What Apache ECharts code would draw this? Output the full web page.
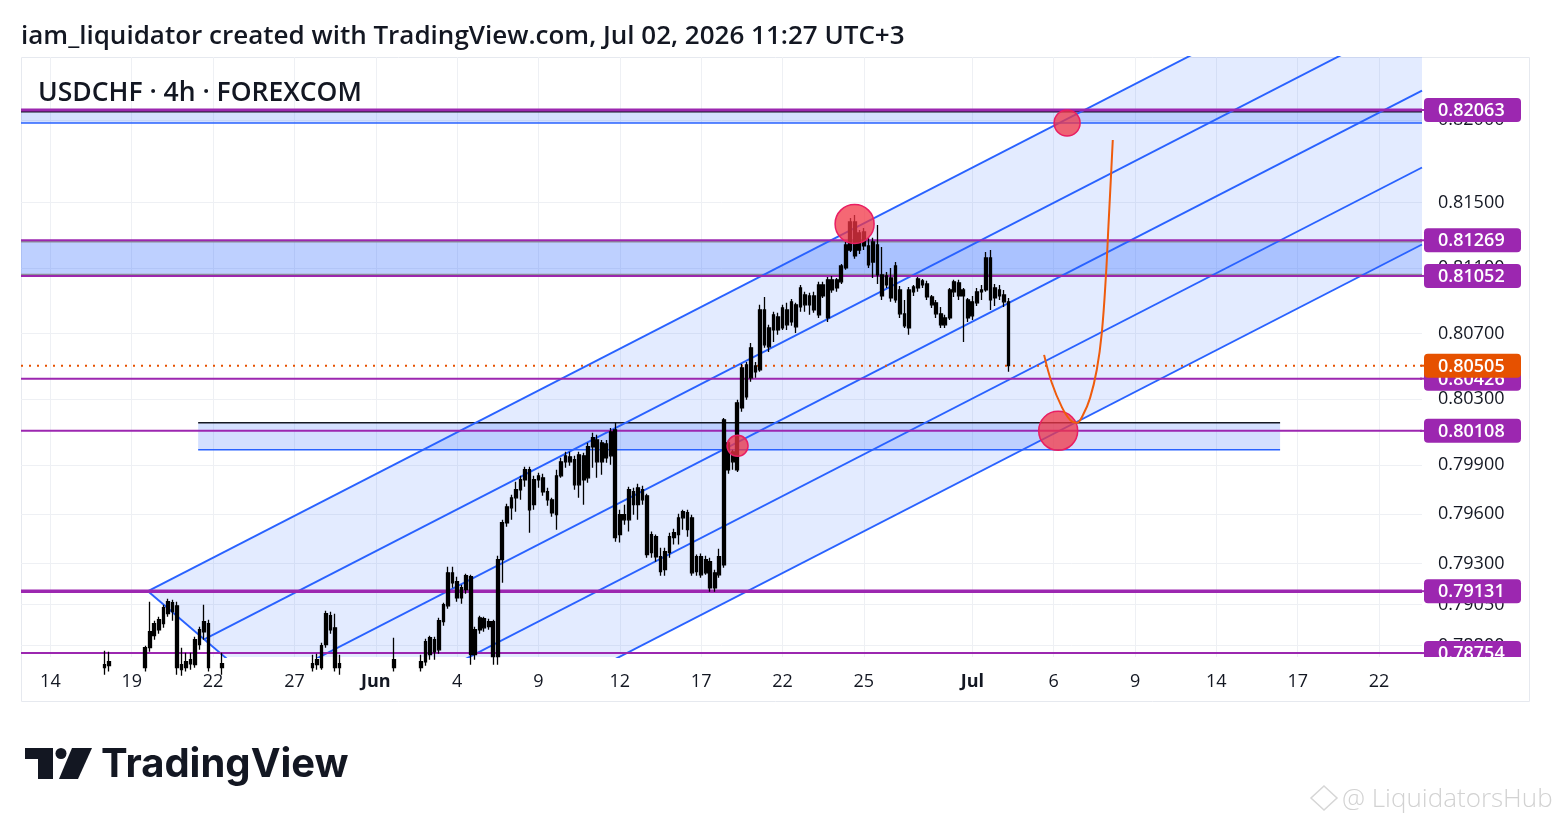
<!DOCTYPE html>
<html><head><meta charset="utf-8">
<script src="https://cdn.jsdelivr.net/npm/echarts@6/dist/echarts.min.js"></script>
<style>html,body{margin:0;padding:0;background:#fff;}#c{width:1552px;height:828px;}</style>
</head><body><div id="c"></div>
<script>
// ---------------- DATA ----------------
// 4h bars: [barIndex, open, close, low, high]; bar 6 = May 14 00:00, 6 bars per trading day
const candles = [
[18,0.78683,0.78665,0.78622,0.78768],[19,0.78701,0.78677,0.78641,0.78762],
[27,0.78665,0.78787,0.78641,0.78799],[28,0.78787,0.78884,0.78762,0.79067],[29,0.78860,0.78933,0.78835,0.78951],
[30,0.78896,0.78957,0.78872,0.78975],[31,0.78933,0.79030,0.78908,0.79049],[32,0.78994,0.79067,0.78975,0.79085],
[33,0.79061,0.79006,0.78951,0.79079],[34,0.79042,0.78665,0.78622,0.79067],[35,0.78653,0.78683,0.78616,0.78787],
[36,0.78665,0.78701,0.78641,0.78756],[37,0.78689,0.78714,0.78653,0.78756],[38,0.78683,0.78835,0.78665,0.78854],
[39,0.78805,0.78896,0.78774,0.78915],[40,0.78884,0.78945,0.78835,0.79049],[41,0.78933,0.78665,0.78641,0.78957],
[44,0.78665,0.78689,0.78622,0.78756],
[64,0.78665,0.78689,0.78641,0.78744],[65,0.78683,0.78714,0.78653,0.78750],[66,0.78665,0.78799,0.78653,0.78817],
[67,0.78805,0.78994,0.78787,0.79012],[68,0.78982,0.78896,0.78872,0.79006],[69,0.78908,0.78665,0.78641,0.78994],
[70,0.78665,0.78689,0.78622,0.78744],
[82,0.78665,0.78714,0.78641,0.78848],
[88,0.78665,0.78701,0.78641,0.78744],[89,0.78701,0.78823,0.78677,0.78841],[90,0.78744,0.78848,0.78714,0.78860],
[91,0.78835,0.78762,0.78714,0.78854],[92,0.78774,0.78951,0.78750,0.78969],[93,0.78945,0.79049,0.78921,0.79061],
[94,0.79042,0.79243,0.79024,0.79280],[95,0.79243,0.79182,0.79152,0.79280],[96,0.79189,0.79091,0.79067,0.79219],
[97,0.79091,0.79152,0.79055,0.79170],[98,0.79140,0.79225,0.79116,0.79237],[99,0.79219,0.78744,0.78683,0.79231],
[100,0.78744,0.78896,0.78714,0.78915],[101,0.78896,0.78969,0.78872,0.78982],[102,0.78963,0.78908,0.78884,0.78975],
[103,0.78915,0.78945,0.78896,0.78963],[104,0.78945,0.78732,0.78683,0.78957],[105,0.78732,0.79323,0.78683,0.79347],
[106,0.79323,0.79548,0.79182,0.79566],[107,0.79548,0.79645,0.79524,0.79664],[108,0.79639,0.79700,0.79566,0.79718],
[109,0.79700,0.79749,0.79615,0.79798],[110,0.79749,0.79810,0.79688,0.79834],[111,0.79810,0.79871,0.79767,0.79889],
[112,0.79871,0.79627,0.79487,0.79889],[113,0.79658,0.79810,0.79627,0.79834],[114,0.79810,0.79834,0.79761,0.79852],
[115,0.79822,0.79737,0.79712,0.79846],[116,0.79737,0.79688,0.79651,0.79761],[117,0.79688,0.79609,0.79584,0.79700],
[118,0.79597,0.79834,0.79506,0.79871],[119,0.79834,0.79919,0.79822,0.79944],[120,0.79919,0.79956,0.79883,0.79980],
[121,0.79950,0.79919,0.79895,0.79980],[122,0.79932,0.79779,0.79749,0.79956],[123,0.79779,0.79962,0.79700,0.79980],
[124,0.79956,0.79810,0.79658,0.79974],[125,0.79822,0.80011,0.79792,0.80035],[126,0.80011,0.80066,0.79883,0.80096],
[127,0.80053,0.79919,0.79822,0.80084],[128,0.79919,0.80035,0.79840,0.80053],[129,0.80029,0.79944,0.79913,0.80053],
[130,0.79956,0.80102,0.79901,0.80126],[131,0.80114,0.79457,0.79433,0.80157],[132,0.79476,0.79597,0.79427,0.79627],
[133,0.79597,0.79566,0.79536,0.79658],[134,0.79566,0.79749,0.79494,0.79767],[135,0.79737,0.79658,0.79597,0.79761],
[136,0.79658,0.79761,0.79566,0.79785],[137,0.79749,0.79688,0.79658,0.79773],[138,0.79712,0.79354,0.79335,0.79725],
[139,0.79366,0.79476,0.79335,0.79494],[140,0.79463,0.79341,0.79311,0.79476],[141,0.79341,0.79250,0.79225,0.79396],
[142,0.79262,0.79372,0.79225,0.79396],[143,0.79366,0.79463,0.79335,0.79487],[144,0.79457,0.79487,0.79415,0.79512],
[145,0.79476,0.79578,0.79415,0.79603],[146,0.79578,0.79615,0.79506,0.79627],[147,0.79609,0.79506,0.79463,0.79627],
[148,0.79578,0.79243,0.79225,0.79597],[149,0.79250,0.79341,0.79225,0.79354],[150,0.79341,0.79231,0.79213,0.79360],
[151,0.79243,0.79323,0.79231,0.79347],[152,0.79311,0.79152,0.79128,0.79335],[153,0.79152,0.79243,0.79128,0.79262],
[154,0.79231,0.79341,0.79213,0.79390],[155,0.79292,0.80175,0.79274,0.80187],[156,0.80035,0.79871,0.79846,0.80053],
[157,0.79919,0.79980,0.79871,0.79993],[158,0.79871,0.80279,0.79858,0.80297],[159,0.80248,0.80492,0.80224,0.80516],
[160,0.80315,0.80510,0.80297,0.80528],[161,0.80431,0.80614,0.80407,0.80644],[162,0.80504,0.80468,0.80431,0.80528],
[163,0.80480,0.80845,0.80468,0.80876],[164,0.80845,0.80632,0.80614,0.80924],[165,0.80620,0.80735,0.80589,0.80754],
[166,0.80723,0.80815,0.80650,0.80833],[167,0.80802,0.80723,0.80693,0.80827],[168,0.80735,0.80857,0.80723,0.80876],
[169,0.80845,0.80754,0.80723,0.80888],[170,0.80772,0.80894,0.80748,0.80912],[171,0.80876,0.80742,0.80705,0.80888],
[172,0.80863,0.80979,0.80833,0.80997],[173,0.80936,0.80876,0.80833,0.80955],[174,0.80876,0.80930,0.80815,0.80949],
[175,0.80930,0.80845,0.80827,0.80955],[176,0.80815,0.80997,0.80796,0.81016],[177,0.80997,0.80930,0.80918,0.81016],
[178,0.80796,0.81028,0.80772,0.81046],[179,0.81028,0.80967,0.80949,0.81052],[180,0.80979,0.81028,0.80955,0.81040],
[181,0.81016,0.81113,0.81003,0.81125],[182,0.81101,0.81241,0.81089,0.81259],[183,0.81210,0.81381,0.81198,0.81405],
[184,0.81381,0.81174,0.81156,0.81424],[185,0.81210,0.81314,0.81186,0.81332],[186,0.81320,0.81235,0.81210,0.81344],
[187,0.81235,0.81119,0.81101,0.81284],[188,0.81137,0.81259,0.81040,0.81284],[189,0.81241,0.81058,0.81003,0.81363],
[190,0.81058,0.80930,0.80906,0.81229],[191,0.80997,0.81052,0.80979,0.81076],[192,0.81040,0.80918,0.80894,0.81101],
[193,0.80906,0.81113,0.80888,0.81137],[194,0.80967,0.80821,0.80796,0.80991],[195,0.80821,0.80748,0.80735,0.80906],
[196,0.80735,0.80967,0.80693,0.80985],[197,0.80955,0.80985,0.80930,0.80997],[198,0.80979,0.81034,0.80955,0.81046],
[199,0.81022,0.80997,0.80979,0.81034],[200,0.81003,0.80924,0.80906,0.81022],[201,0.80924,0.80876,0.80857,0.80936],
[202,0.80888,0.80821,0.80796,0.80906],[203,0.80821,0.80754,0.80735,0.80863],[204,0.80754,0.80796,0.80735,0.80815],
[205,0.80796,0.80967,0.80784,0.80979],[206,0.80955,0.81016,0.80924,0.81028],[207,0.81010,0.80930,0.80906,0.81028],
[208,0.80930,0.80967,0.80650,0.80979],[209,0.80906,0.80796,0.80772,0.80918],[210,0.80809,0.80894,0.80784,0.80930],
[211,0.80888,0.80955,0.80869,0.80979],[212,0.80955,0.80967,0.80906,0.80997],[213,0.80967,0.81162,0.80955,0.81198],
[214,0.81162,0.80906,0.80845,0.81210],[215,0.80918,0.80979,0.80869,0.81003],[216,0.80967,0.80930,0.80906,0.80997],
[217,0.80936,0.80894,0.80863,0.80967],[218,0.80894,0.80505,0.80468,0.80918]
];
const xTickIndex = [6,24,42,60,78,96,114,132,150,168,186,210,228,246,264,282,300];
const xTickText  = ['14','19','22','27','Jun','4','9','12','17','22','25','Jul','6','9','14','17','22'];
const yTickValues = [0.82000,0.81500,0.81100,0.80700,0.80300,0.79900,0.79600,0.79300,0.79050,0.78800];
const levelPrices = [0.82063,0.81269,0.81052,0.80426,0.80108,0.79131,0.78754];
const lastPrice = 0.80505;
// channel drawing anchors [barIndex, price]
const channelStart  = [27.6, 0.79131];
const channelSecond = [257.5, 0.82384];
const channelThird  = [77.3, 0.77958];
const channelLevels = [0, 0.25, 0.5, 0.75, 1];
// zones: [x0, x1, priceTop, priceBottom]
const zoneTop = [-0.5, 309.5, 0.82052, 0.81984];
const zoneMid = [-0.5, 309.5, 0.81262, 0.81059];
const zoneLow = [38.7, 278.1, 0.80157, 0.79993];
// highlighted circles [barIndex, price]
const circles = [[183.95,0.81369],[158.05,0.80017],[230.97,0.81984],[229.0,0.80108]];
// projected path [barIndex, price]
const pathPoints = [[225.88,0.80571],[227.58,0.80401],[229.79,0.80254],[231.63,0.80175],[233.11,0.80157],
[234.51,0.80206],[236.06,0.80309],[237.54,0.80480],[238.65,0.80705],[239.60,0.81070],[240.11,0.81351],
[240.64,0.81637],[241.08,0.81880]];

// ---------------- CHART ----------------
const X_MIN=-0.5, X_MAX=309.5, Y_MIN=0.7873, Y_MAX=0.82386;
const PURPLE='#9c27b0', BLUE='#2962ff', ORANGE='#e65100';
const FONT='"Open Sans", Roboto, sans-serif';
const slope=(channelSecond[1]-channelStart[1])/(channelSecond[0]-channelStart[0]);
function chanLine(f){
  const sx=channelStart[0]+f*(channelThird[0]-channelStart[0]);
  const sy=channelStart[1]+f*(channelThird[1]-channelStart[1]);
  return [[sx,sy],[X_MAX,sy+slope*(X_MAX-sx)]];
}
const lineA=chanLine(0), lineE=chanLine(1);
const fillPoly=[lineA[0],lineA[1],lineE[1],lineE[0]];
const levelWidths=[3,2,2,2,2,3.5,2];
const circleDiam=[39,21,26,39];

const series=[];
series.push({type:'custom',z:1,clip:true,silent:true,data:[[0,0]],
  renderItem:(p,api)=>({type:'polygon',shape:{points:fillPoly.map(q=>api.coord(q))},style:{fill:'rgba(41,98,255,0.13)'}})});
function zoneSeries(zone,fill,topC,botC,w){
  return {type:'custom',z:2,clip:true,silent:true,data:[zone],
    renderItem:(p,api)=>{
      const a=api.coord([api.value(0),api.value(2)]), b=api.coord([api.value(1),api.value(3)]);
      return {type:'group',children:[
        {type:'rect',shape:{x:a[0],y:a[1],width:b[0]-a[0],height:b[1]-a[1]},style:{fill:fill}},
        {type:'line',shape:{x1:a[0],y1:a[1],x2:b[0],y2:a[1]},style:{stroke:topC,lineWidth:w}},
        {type:'line',shape:{x1:a[0],y1:b[1],x2:b[0],y2:b[1]},style:{stroke:botC,lineWidth:w}}
      ]};
    }};
}
series.push(zoneSeries(zoneTop,'rgba(41,98,255,0.2)','#131722',BLUE,1.6));
series.push(zoneSeries(zoneMid,'rgba(41,98,255,0.3)','#8a8d96','#8a8d96',2));
series.push(zoneSeries(zoneLow,'rgba(41,98,255,0.2)','#131722',BLUE,1.6));
channelLevels.forEach(f=>{
  series.push({type:'line',z:3,silent:true,symbol:'none',data:chanLine(f),lineStyle:{color:BLUE,width:1.9}});
});
series.push({type:'line',z:3,silent:true,symbol:'none',data:[channelStart,channelThird],lineStyle:{color:BLUE,width:1.9}});
levelPrices.forEach((v,k)=>{
  series.push({type:'line',z:4,silent:true,symbol:'none',data:[[X_MIN,v],[X_MAX,v]],lineStyle:{color:PURPLE,width:levelWidths[k]}});
});
series.push({type:'line',z:4,silent:true,symbol:'none',data:[[X_MIN,lastPrice],[X_MAX,lastPrice]],
  lineStyle:{color:ORANGE,width:2,type:[2,6]}});
series.push({type:'candlestick',z:5,silent:true,clip:true,barWidth:3.2,data:candles,
  itemStyle:{color:'#000',color0:'#000',borderColor:'#000',borderColor0:'#000',borderColorDoji:'#000',borderWidth:1.3}});
series.push({type:'scatter',z:6,silent:true,symbol:'circle',data:circles,
  symbolSize:(v,p)=>circleDiam[p.dataIndex],
  itemStyle:{color:'rgba(242,54,69,0.75)',borderColor:'#e91e63',borderWidth:1.5,opacity:1}});
series.push({type:'line',z:7,silent:true,symbol:'none',smooth:0.4,data:pathPoints,lineStyle:{color:'#ef5b0c',width:2}});
const labelData=levelPrices.map(v=>[v,0]).concat([[lastPrice,1]]);
series.push({type:'custom',z:10,silent:true,clip:false,data:labelData,
  renderItem:(p,api)=>{
    const price=api.value(0), kind=api.value(1);
    const pt=api.coord([X_MAX,price]);
    const top=api.coord([X_MAX,Y_MAX])[1], bot=api.coord([X_MAX,Y_MIN])[1];
    return {type:'group',clipPath:{type:'rect',shape:{x:pt[0]-4,y:top-30,width:140,height:bot-top+30}},children:[
      {type:'line',shape:{x1:pt[0]-2,y1:pt[1],x2:pt[0]+3,y2:pt[1]},style:{stroke:kind?ORANGE:PURPLE,lineWidth:2}},
      {type:'rect',shape:{x:pt[0]+2,y:pt[1]-12,width:97,height:24,r:4},style:{fill:kind?ORANGE:PURPLE}},
      {type:'text',style:{text:price.toFixed(5),x:pt[0]+16,y:pt[1]+1,verticalAlign:'middle',fill:'#fff',font:'600 18px '+FONT}}
    ]};
  }});

const option={
  animation:false,
  backgroundColor:'#fff',
  grid:{left:21,right:130,top:57,bottom:171,containLabel:false},
  xAxis:{type:'value',min:X_MIN,max:X_MAX,
    axisLine:{show:false},
    axisTick:{show:false,customValues:xTickIndex},
    splitLine:{show:true,lineStyle:{color:'#eef0f4',width:1}},
    axisLabel:{customValues:xTickIndex,margin:16,color:'#131722',fontSize:18,fontFamily:FONT,fontWeight:500,
      formatter:(v)=>{const k=xTickIndex.indexOf(Math.round(v));const t=k>=0?xTickText[k]:'';return (t==='Jun'||t==='Jul')?'{b|'+t+'}':t;},
      rich:{b:{fontWeight:'bold',fontSize:18,fontFamily:FONT,color:'#131722'}}}
  },
  yAxis:{type:'value',position:'right',min:Y_MIN,max:Y_MAX,
    axisLine:{show:false},
    axisTick:{show:false,customValues:yTickValues},
    splitLine:{show:true,lineStyle:{color:'#eef0f4',width:1}},
    axisLabel:{customValues:yTickValues,margin:16,color:'#131722',fontSize:18,fontFamily:FONT,fontWeight:500,
      formatter:(v)=>v.toFixed(5)}
  },
  graphic:[
    {type:'rect',silent:true,z:-10,shape:{x:21.5,y:57.5,width:1508,height:644},style:{fill:'none',stroke:'#e6e9ef',lineWidth:1}},
    {type:'text',silent:true,style:{text:'iam_liquidator created with TradingView.com, Jul 02, 2026 11:27 UTC+3',x:21,y:37,verticalAlign:'middle',fill:'#131722',font:'600 26px '+FONT}},
    {type:'text',silent:true,z:20,style:{text:'USDCHF · 4h · FOREXCOM',x:38,y:93,verticalAlign:'middle',fill:'#131722',font:'600 26.5px '+FONT}},
    {type:'rect',silent:true,shape:{x:25,y:748,width:28,height:11},style:{fill:'#131722'}},
    {type:'rect',silent:true,shape:{x:38,y:748,width:15,height:31},style:{fill:'#131722'}},
    {type:'circle',silent:true,shape:{cx:61,cy:753.5,r:5.5},style:{fill:'#131722'}},
    {type:'polygon',silent:true,shape:{points:[[72,748],[92,748],[78,779],[59,779]]},style:{fill:'#131722'}},
    {type:'text',silent:true,style:{text:'TradingView',x:101,y:765,verticalAlign:'middle',fill:'#131722',font:'bold 40px Inter, Roboto, sans-serif'}},
    {type:'polygon',silent:true,shape:{points:[[1324,786],[1337,798],[1324,810],[1311,798]]},style:{fill:'none',stroke:'#d6d6d6',lineWidth:1.5}},
    {type:'text',silent:true,style:{text:'@ LiquidatorsHub',x:1342,y:800,verticalAlign:'middle',fill:'#d2d2d2',font:'300 26px '+FONT}}
  ],
  series:series
};
const chart=echarts.init(document.getElementById('c'),null,{renderer:'canvas'});
chart.setOption(option);
</script></body></html>
